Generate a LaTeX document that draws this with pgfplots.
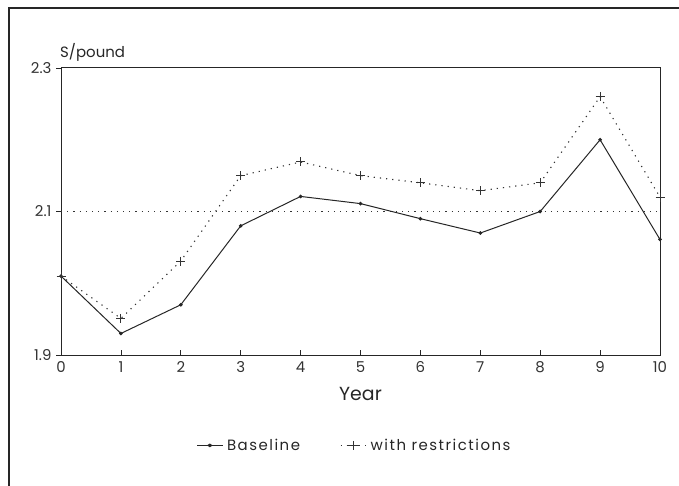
\documentclass[border=0pt]{standalone}
\usepackage{fontspec}
\setmainfont{Poppins}
\newfontfamily\widefont[LetterSpace=10]{Poppins}
\usepackage{pgfplots}
\pgfplotsset{compat=1.18}
\begin{document}
\begin{tikzpicture}
\useasboundingbox (0bp,0bp) rectangle (679bp,486bp);
\draw[line width=2.2bp,black!85] (9bp,0bp) -- (9bp,478bp) -- (679bp,478bp);
\begin{axis}[
  at={(61bp,131bp)}, anchor=south west,
  scale only axis, width=599bp, height=287bp,
  xmin=0, xmax=10, ymin=1.9, ymax=2.3,
  xtick={0,...,10}, ytick={1.9,2.1,2.3},
  yticklabels={1.9,2.1,2.3},
  /pgf/number format/assume math mode=true,
  tick label style={font=\fontsize{15}{16}\selectfont, text=black!80},
  xticklabel style={yshift=-3bp},
  yticklabel style={xshift=-1bp},
  xtick align=inside, ytick align=outside,
  major tick length=5bp,
  xtick pos=bottom, ytick pos=left,
  axis line style={line width=1bp, black!85},
  tick style={line width=0.8bp, black!85},
  xlabel={Year}, xlabel style={font=\fontsize{19}{20}\selectfont, text=black!85, yshift=-8bp},
  clip=false,
  legend style={at={(0.49,-0.315)}, anchor=center, draw=none, fill=none,
    font=\widefont\fontsize{15}{16}\selectfont, text=black!85, legend columns=2,
    /tikz/every even column/.append style={column sep=38bp},
    /tikz/every odd column/.append style={column sep=2bp}},
  legend image post style={xscale=1.5},
  legend cell align=left,
]
\draw[black!80, line width=1bp, dash pattern=on 1.2bp off 5bp] (axis cs:0,2.1) -- (axis cs:10,2.1);
\addplot[black!85, line width=1bp, mark=*, mark size=1.3bp] coordinates {
 (0,2.010) (1,1.930) (2,1.970) (3,2.080) (4,2.121) (5,2.111) (6,2.090) (7,2.070) (8,2.100) (9,2.200) (10,2.061)};
\addlegendentry{Baseline}
\addplot[black!80, line width=1.1bp, dash pattern=on 1.2bp off 5bp, mark=+, mark size=4.5bp, mark options={solid, line width=1bp}] coordinates {
 (0,2.010) (1,1.951) (2,2.031) (3,2.150) (4,2.169) (5,2.150) (6,2.140) (7,2.129) (8,2.140) (9,2.260) (10,2.120)};
\addlegendentry{with restrictions}
\node[anchor=south west, font=\fontsize{15}{16}\selectfont, text=black!85, inner sep=0pt] at (axis cs:0,2.3) [yshift=6bp, xshift=-1bp] {S/pound};
\end{axis}
\end{tikzpicture}
\end{document}
